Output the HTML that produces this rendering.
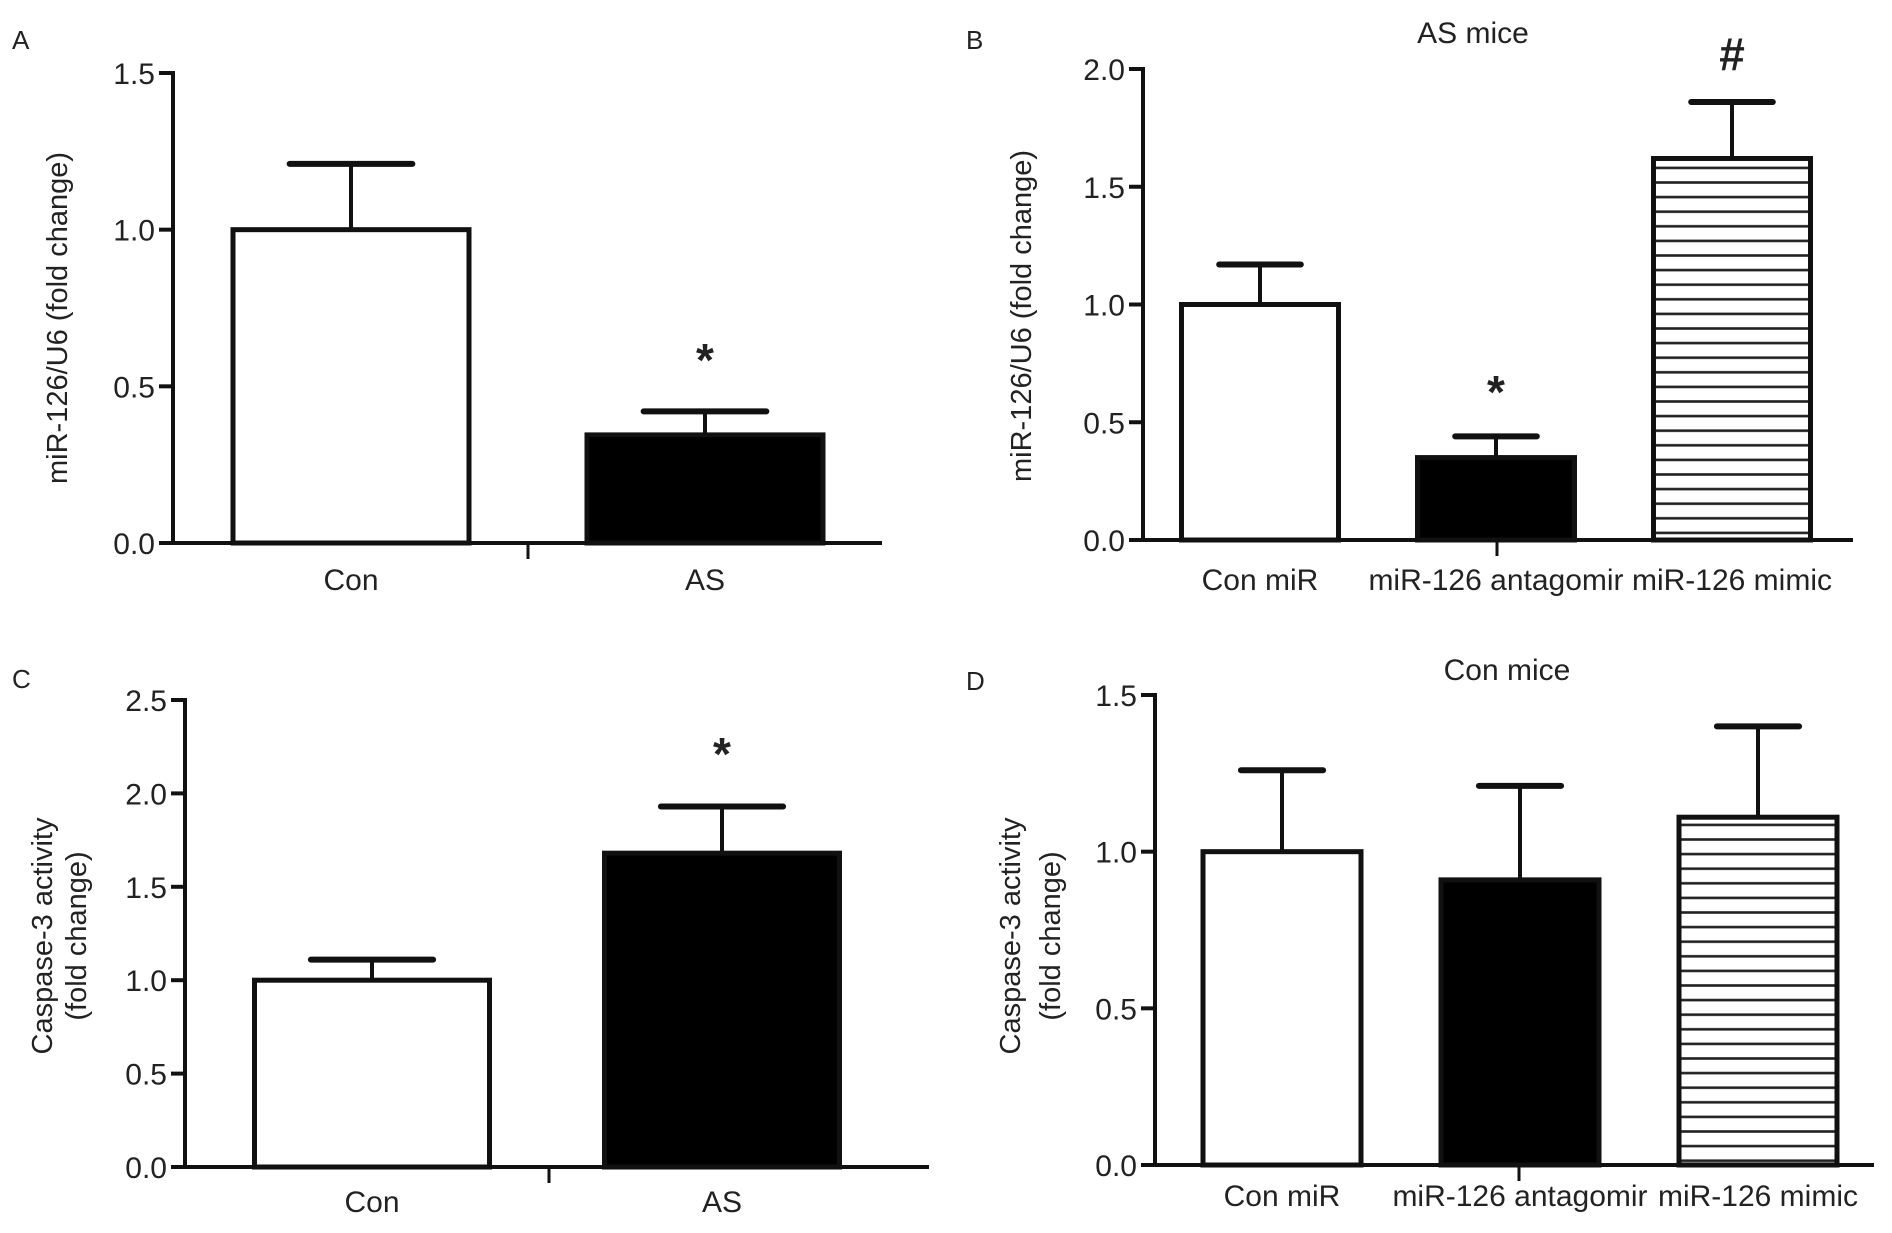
<!DOCTYPE html>
<html><head><meta charset="utf-8"><style>
html,body{margin:0;padding:0;background:#fff;}
svg{display:block;font-family:"Liberation Sans",Arial,sans-serif;}
text{fill:#222;}
</style></head><body>
<svg id="chart" width="1892" height="1233" viewBox="0 0 1892 1233" xmlns="http://www.w3.org/2000/svg">
<defs>
<pattern id="hatch" patternUnits="userSpaceOnUse" width="10" height="14.6">
<rect x="0" y="0" width="10" height="14.6" fill="#fff"/>
<rect x="0" y="6" width="10" height="2.6" fill="#222"/>
</pattern>
</defs>
</svg>
<script>
// Panel A
const catsA = ["Con", "AS"];
const valsA = [1.0, 0.345];
const errA = [1.21, 0.42];
const ticksA = ["0.0", "0.5", "1.0", "1.5"];
// Panel B
const catsB = ["Con miR", "miR-126 antagomir", "miR-126 mimic"];
const valsB = [1.0, 0.35, 1.62];
const errB = [1.17, 0.44, 1.86];
const ticksB = ["0.0", "0.5", "1.0", "1.5", "2.0"];
// Panel C
const catsC = ["Con", "AS"];
const valsC = [1.0, 1.68];
const errC = [1.11, 1.93];
const ticksC = ["0.0", "0.5", "1.0", "1.5", "2.0", "2.5"];
// Panel D
const catsD = ["Con miR", "miR-126 antagomir", "miR-126 mimic"];
const valsD = [1.0, 0.91, 1.11];
const errD = [1.26, 1.21, 1.40];
const ticksD = ["0.0", "0.5", "1.0", "1.5"];

const svg = document.getElementById('chart');
const NS = "http://www.w3.org/2000/svg";
function mk(tag, attrs, parent, txt) {
  const e = document.createElementNS(NS, tag);
  for (const k in attrs) e.setAttribute(k, attrs[k]);
  if (txt !== undefined) e.textContent = txt;
  (parent || svg).appendChild(e);
  return e;
}

function panel(cfg) {
  const g = mk('g', {});
  
  
  const ymax = parseFloat(cfg.ticks[cfg.ticks.length - 1]);
  const y = v => cfg.y0 - (v / ymax) * (cfg.y0 - cfg.yTop);
  const ax = mk('line', {x1: cfg.ax, y1: y(ymax) - 2, x2: cfg.ax, y2: cfg.y0, stroke: '#111', 'stroke-width': 4}, g);
  
  
  cfg.ticks.forEach(t => {
    const v = parseFloat(t);
    const tk = mk('line', {x1: cfg.ax - 14, y1: y(v), x2: cfg.ax, y2: y(v), stroke: '#111', 'stroke-width': 4}, g);
    
    
    const tl = mk('text', {x: cfg.ax - 18, y: y(v) + 11, 'text-anchor': 'end', 'font-size': 30}, g, t);
    
    
  });
  const xa = mk('line', {x1: cfg.ax - 14, y1: cfg.y0, x2: cfg.xEnd, y2: cfg.y0, stroke: '#111', 'stroke-width': 4}, g);
  
  
  const mt = mk('line', {x1: cfg.midTick, y1: cfg.y0, x2: cfg.midTick, y2: cfg.y0 + 16, stroke: '#111', 'stroke-width': 3}, g);
  
  
  const n = cfg.cats.length;
  cfg.cats.forEach((c, i) => {
    const cx = cfg.first + cfg.step * i;
    const w = cfg.bw;
    const top = y(cfg.vals[i]);
    const capW = w * 0.52;
    const ey = y(cfg.err[i]);
    const el = mk('line', {x1: cx, y1: ey, x2: cx, y2: top, stroke: '#111', 'stroke-width': 4}, g);
    
    
    const cap = mk('line', {x1: cx - capW / 2, y1: ey, x2: cx + capW / 2, y2: ey, stroke: '#111', 'stroke-width': 6, 'stroke-linecap': 'round'}, g);
    
    
    const b = mk('rect', {x: cx - w / 2, y: top, width: w, height: cfg.y0 - top, fill: cfg.fills[i], stroke: '#111', 'stroke-width': 5}, g);
    
    
    const lbl = mk('text', {x: cx, y: cfg.labY, 'text-anchor': 'middle', 'font-size': 30}, g, c);
    
    
    if (cfg.marks[i]) {
      const m = mk('text', {x: cx, y: cfg.markY[i], 'text-anchor': 'middle', 'font-size': 46, 'font-weight': 'bold'}, g, cfg.marks[i]);
      
      
    }
  });
  cfg.ylab.forEach((s, k) => {
    const t = mk('text', {x: 0, y: 0, transform: `translate(${cfg.ylabX[k]},${cfg.ylabY}) rotate(-90)`, 'text-anchor': 'middle', 'font-size': 29}, g, s);
    
    
  });
  const pl = mk('text', {x: cfg.plX, y: cfg.plY, 'font-size': 26}, g, cfg.letter);
  
  
  if (cfg.title) {
    const tt = mk('text', {x: cfg.title[1], y: cfg.title[2], 'text-anchor': 'middle', 'font-size': 30}, g, cfg.title[0]);
    
    
  }
}

panel({name: 'panel-a', letter: 'A', plX: 12, plY: 49, cats: catsA, vals: valsA, err: errA, ticks: ticksA,
  ax: 173, y0: 543, yTop: 73, xEnd: 882, bw: 236, first: 351, step: 354, midTick: 528, labY: 590,
  fills: ['#fff', '#000'], marks: [null, '*'], markY: [0, 376],
  ylab: ['miR-126/U6 (fold change)'], ylabX: [67], ylabY: 318});
panel({name: 'panel-b', letter: 'B', plX: 966, plY: 49, cats: catsB, vals: valsB, err: errB, ticks: ticksB,
  ax: 1143, y0: 540, yTop: 69, xEnd: 1853, bw: 157, first: 1260, step: 236, midTick: 1497, labY: 590,
  fills: ['#fff', '#000', 'url(#hatch)'], marks: [null, '*', '#'], markY: [0, 408, 70],
  ylab: ['miR-126/U6 (fold change)'], ylabX: [1031], ylabY: 316, title: ['AS mice', 1473, 43]});
panel({name: 'panel-c', letter: 'C', plX: 12, plY: 688, cats: catsC, vals: valsC, err: errC, ticks: ticksC,
  ax: 185, y0: 1167, yTop: 700, xEnd: 929, bw: 235, first: 372, step: 350, midTick: 549, labY: 1212,
  fills: ['#fff', '#000'], marks: [null, '*'], markY: [0, 770],
  ylab: ['Caspase-3 activity', '(fold change)'], ylabX: [52, 86], ylabY: 936});
panel({name: 'panel-d', letter: 'D', plX: 966, plY: 690, cats: catsD, vals: valsD, err: errD, ticks: ticksD,
  ax: 1155, y0: 1165, yTop: 695, xEnd: 1874, bw: 158, first: 1282, step: 238, midTick: 1519, labY: 1206,
  fills: ['#fff', '#000', 'url(#hatch)'], marks: [null, null, null], markY: [0, 0, 0],
  ylab: ['Caspase-3 activity', '(fold change)'], ylabX: [1020, 1060], ylabY: 936, title: ['Con mice', 1507, 680]});
</script>
</body></html>
